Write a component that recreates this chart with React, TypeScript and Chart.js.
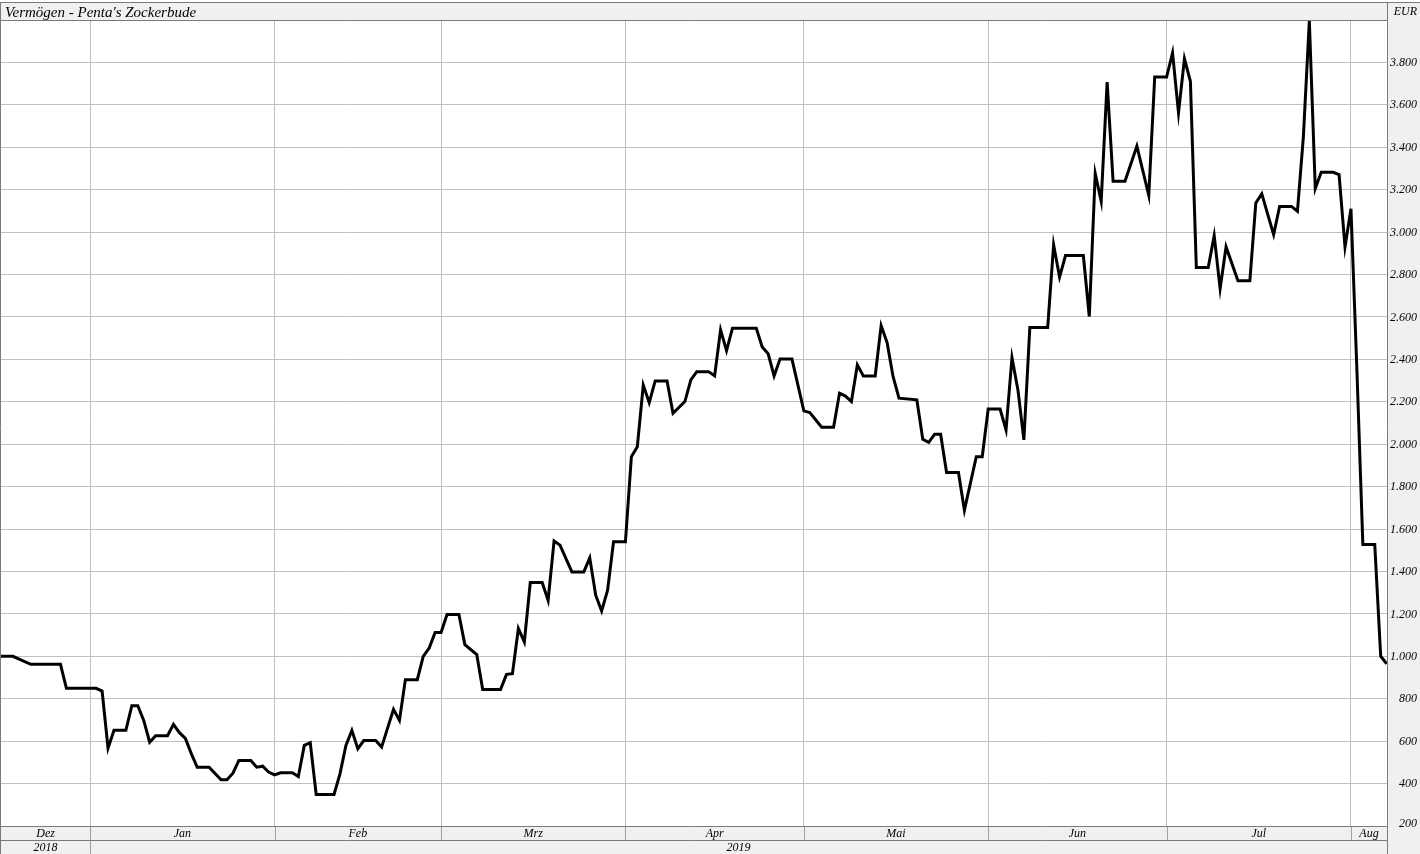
import React, { useEffect, useRef } from "react";
import { Chart, registerables } from "chart.js";

Chart.register(...registerables);

// ---- data ----
const TITLE = "Vermögen - Penta's Zockerbude";
const CURRENCY = "EUR";

const dates = [
  "2018-12-17", "2018-12-19", "2018-12-22", "2018-12-27", "2018-12-28",
  "2019-01-02", "2019-01-03", "2019-01-04", "2019-01-05", "2019-01-07",
  "2019-01-08", "2019-01-09", "2019-01-10", "2019-01-11", "2019-01-12",
  "2019-01-14", "2019-01-15", "2019-01-16", "2019-01-17", "2019-01-18",
  "2019-01-19", "2019-01-21", "2019-01-23", "2019-01-24", "2019-01-25",
  "2019-01-26", "2019-01-28", "2019-01-29", "2019-01-30", "2019-01-31",
  "2019-02-01", "2019-02-02", "2019-02-04", "2019-02-05", "2019-02-06",
  "2019-02-07", "2019-02-08", "2019-02-11", "2019-02-12", "2019-02-13",
  "2019-02-14", "2019-02-15", "2019-02-16", "2019-02-18", "2019-02-19",
  "2019-02-21", "2019-02-22", "2019-02-23", "2019-02-25", "2019-02-26",
  "2019-02-27", "2019-02-28", "2019-03-01", "2019-03-02", "2019-03-04",
  "2019-03-05", "2019-03-07", "2019-03-08", "2019-03-11", "2019-03-12",
  "2019-03-13", "2019-03-14", "2019-03-15", "2019-03-16", "2019-03-18",
  "2019-03-19", "2019-03-20", "2019-03-21", "2019-03-23", "2019-03-25",
  "2019-03-26", "2019-03-27", "2019-03-28", "2019-03-29", "2019-03-30",
  "2019-04-01", "2019-04-02", "2019-04-03", "2019-04-04", "2019-04-05",
  "2019-04-06", "2019-04-08", "2019-04-09", "2019-04-11", "2019-04-12",
  "2019-04-13", "2019-04-15", "2019-04-16", "2019-04-17", "2019-04-18",
  "2019-04-19", "2019-04-23", "2019-04-24", "2019-04-25", "2019-04-26",
  "2019-04-27", "2019-04-29", "2019-05-01", "2019-05-02", "2019-05-04",
  "2019-05-06", "2019-05-07", "2019-05-08", "2019-05-09", "2019-05-10",
  "2019-05-11", "2019-05-13", "2019-05-14", "2019-05-15", "2019-05-16",
  "2019-05-17", "2019-05-20", "2019-05-21", "2019-05-22", "2019-05-23",
  "2019-05-24", "2019-05-25", "2019-05-27", "2019-05-28", "2019-05-30",
  "2019-05-31", "2019-06-01", "2019-06-03", "2019-06-04", "2019-06-05",
  "2019-06-06", "2019-06-07", "2019-06-08", "2019-06-11", "2019-06-12",
  "2019-06-13", "2019-06-14", "2019-06-17", "2019-06-18", "2019-06-19",
  "2019-06-20", "2019-06-21", "2019-06-22", "2019-06-24", "2019-06-26",
  "2019-06-28", "2019-06-29", "2019-07-01", "2019-07-02", "2019-07-03",
  "2019-07-04", "2019-07-05", "2019-07-06", "2019-07-08", "2019-07-09",
  "2019-07-10", "2019-07-11", "2019-07-13", "2019-07-15", "2019-07-16",
  "2019-07-17", "2019-07-19", "2019-07-20", "2019-07-22", "2019-07-23",
  "2019-07-24", "2019-07-25", "2019-07-26", "2019-07-27", "2019-07-29",
  "2019-07-30", "2019-07-31", "2019-08-01", "2019-08-02", "2019-08-03",
  "2019-08-05", "2019-08-06", "2019-08-07",
];

const values = [
  1000, 1000, 962, 962, 849,
  849, 836, 567, 651, 651,
  767, 767, 698, 595, 626,
  626, 679, 640, 613, 541,
  477, 477, 418, 418, 449,
  509, 509, 477, 482, 454,
  441, 451, 451, 433, 580,
  593, 349, 349, 446, 580,
  651, 564, 603, 603, 572,
  750, 698, 890, 890, 1000,
  1039, 1112, 1112, 1197, 1197,
  1055, 1008, 843, 843, 915,
  918, 1131, 1068, 1348, 1348,
  1264, 1544, 1524, 1398, 1398,
  1464, 1288, 1214, 1312, 1540,
  1540, 1941, 1988, 2279, 2196,
  2298, 2298, 2146, 2201, 2303,
  2342, 2342, 2322, 2539, 2441,
  2547, 2547, 2458, 2426, 2322,
  2401, 2401, 2157, 2149, 2080,
  2080, 2240, 2227, 2201, 2374,
  2322, 2322, 2559, 2479, 2319,
  2217, 2209, 2023, 2009, 2047,
  2047, 1867, 1867, 1689, 1941,
  1941, 2166, 2166, 2067, 2408,
  2256, 2020, 2550, 2550, 2940,
  2788, 2889, 2889, 2602, 3276,
  3145, 3707, 3240, 3240, 3405,
  3173, 3731, 3731, 3845, 3562,
  3817, 3711, 2833, 2833, 2983,
  2733, 2930, 2770, 2770, 3137,
  3180, 2988, 3121, 3121, 3098,
  3450, 3995, 3205, 3282, 3282,
  3271, 2930, 3110, 2350, 1527,
  1527, 1000, 965,
];

const monthLabels = ["Dez", "Jan", "Feb", "Mrz", "Apr", "Mai", "Jun", "Jul", "Aug"];
const monthStarts = [
  "2019-01-01", "2019-02-01", "2019-03-01", "2019-04-01",
  "2019-05-01", "2019-06-01", "2019-07-01", "2019-08-01",
];
const yearLabels = ["2018", "2019"];
const yearStarts = ["2019-01-01"];
const yTicks = [200, 400, 600, 800, 1000, 1200, 1400, 1600, 1800, 2000, 2200, 2400, 2600, 2800, 3000, 3200, 3400, 3600, 3800];

const AXIS_START = "2018-12-17";
const AXIS_END_DAYS = 218.06;
const Y_MIN = 200;
const Y_MAX = 3995;

// ---- helpers ----
const EPOCH = Date.UTC(2019, 0, 1);
function toDay(s: string): number {
  const [y, m, d] = s.split("-").map(Number);
  return (Date.UTC(y, m - 1, d) - EPOCH) / 86400000;
}
function fmt(v: number): string {
  const s = String(Math.round(v));
  return s.replace(/\B(?=(\d{3})+(?!\d))/g, ".");
}

const W = 1420;
const H = 854;
const BG = "#f0f0f0";
const BORDER = "#7a7a7a";
const GRID = "#c0c0c0";
const FONT = "'Liberation Serif', 'DejaVu Serif', serif";

const framePlugin = {
  id: "frame",
  beforeDraw(chart: any) {
    const { ctx, chartArea: ca } = chart;
    ctx.save();
    ctx.fillStyle = "#ffffff";
    ctx.fillRect(0, 0, W, H);
    ctx.fillStyle = BG;
    ctx.fillRect(0, 3, W, ca.top - 3);
    ctx.fillRect(ca.right, 3, W - ca.right, H - 3);
    ctx.fillRect(0, ca.bottom, ca.right, H - ca.bottom);
    ctx.restore();
  },
  afterDraw(chart: any) {
    const { ctx, chartArea: ca, scales } = chart;
    const xs = scales.x;
    const ys = scales.y;
    const monthRowBottom = ca.bottom + 14;
    ctx.save();
    ctx.lineWidth = 1;

    // month separators in the bottom band
    ctx.strokeStyle = "#a0a0a0";
    monthStarts.forEach((d) => {
      const px = Math.round(xs.getPixelForValue(toDay(d))) + 0.5;
      ctx.beginPath();
      ctx.moveTo(px, ca.bottom);
      ctx.lineTo(px, monthRowBottom);
      ctx.stroke();
    });
    yearStarts.forEach((d) => {
      const px = Math.round(xs.getPixelForValue(toDay(d))) + 0.5;
      ctx.beginPath();
      ctx.moveTo(px, monthRowBottom);
      ctx.lineTo(px, H);
      ctx.stroke();
    });

    // borders
    ctx.strokeStyle = BORDER;
    const line = (x1: number, y1: number, x2: number, y2: number) => {
      ctx.beginPath();
      ctx.moveTo(x1, y1);
      ctx.lineTo(x2, y2);
      ctx.stroke();
    };
    line(0, 2.5, W, 2.5);
    line(0, Math.round(ca.top) - 0.5, ca.right, Math.round(ca.top) - 0.5);
    line(0.5, 3, 0.5, H);
    line(Math.round(ca.right) + 0.5, 3, Math.round(ca.right) + 0.5, H);
    line(0, Math.round(ca.bottom) + 0.5, ca.right, Math.round(ca.bottom) + 0.5);
    line(0, monthRowBottom + 0.5, ca.right, monthRowBottom + 0.5);

    // title
    ctx.fillStyle = "#000";
    ctx.textBaseline = "middle";
    ctx.textAlign = "left";
    ctx.font = `italic 15px ${FONT}`;
    ctx.fillText(TITLE, 5, 13.5);

    // currency
    ctx.font = `italic 12px ${FONT}`;
    ctx.textAlign = "right";
    ctx.fillText(CURRENCY, W - 3, 11.5);

    // y labels
    yTicks.forEach((v) => {
      const py = ys.getPixelForValue(v);
      ctx.fillText(fmt(v), W - 3, v === Y_MIN ? py - 2 : py + 0.5);
    });

    // month labels
    ctx.textAlign = "center";
    const bounds = [xs.getPixelForValue(toDay(AXIS_START)), ...monthStarts.map((d) => xs.getPixelForValue(toDay(d))), ca.right];
    monthLabels.forEach((lab, i) => {
      const cx = (bounds[i] + bounds[i + 1]) / 2;
      ctx.fillText(lab, cx, ca.bottom + 7.5);
    });
    const ybounds = [xs.getPixelForValue(toDay(AXIS_START)), ...yearStarts.map((d) => xs.getPixelForValue(toDay(d))), ca.right];
    yearLabels.forEach((lab, i) => {
      const cx = (ybounds[i] + ybounds[i + 1]) / 2;
      ctx.fillText(lab, cx, monthRowBottom + 7.5);
    });
    ctx.restore();
  },
};

export default function App() {
  const ref = useRef<HTMLCanvasElement | null>(null);

  useEffect(() => {
    if (!ref.current) return;
    const points = dates.map((d, i) => ({ x: toDay(d), y: values[i] }));
    const chart = new Chart(ref.current, {
      type: "line",
      data: {
        datasets: [
          {
            data: points,
            borderColor: "#000000",
            borderWidth: 3,
            pointRadius: 0,
            tension: 0,
            fill: false,
          },
        ],
      },
      options: {
        animation: false,
        responsive: false,
        devicePixelRatio: 1,
        parsing: false as any,
        normalized: true,
        layout: { padding: { left: 1, top: 21, right: 33, bottom: 28 } },
        plugins: { legend: { display: false }, tooltip: { enabled: false } },
        scales: {
          x: {
            type: "linear",
            min: toDay(AXIS_START),
            max: AXIS_END_DAYS,
            ticks: { display: false },
            grid: { color: GRID, lineWidth: 1, drawTicks: false },
            border: { display: false },
            afterBuildTicks: (scale: any) => {
              scale.ticks = monthStarts.map((d) => ({ value: toDay(d) }));
            },
            afterFit: (scale: any) => {
              scale.height = 0;
            },
          },
          y: {
            type: "linear",
            position: "right",
            min: Y_MIN,
            max: Y_MAX,
            ticks: { display: false },
            grid: { color: GRID, lineWidth: 1, drawTicks: false },
            border: { display: false },
            afterBuildTicks: (scale: any) => {
              scale.ticks = yTicks.map((v) => ({ value: v }));
            },
            afterFit: (scale: any) => {
              scale.width = 0;
            },
          },
        },
      },
      plugins: [framePlugin],
    });
    return () => chart.destroy();
  }, []);

  return (
    <div style={{ position: "absolute", left: 0, top: 0, width: W, height: H }}>
      <canvas ref={ref} width={W} height={H} style={{ width: W, height: H, display: "block" }} />
    </div>
  );
}
